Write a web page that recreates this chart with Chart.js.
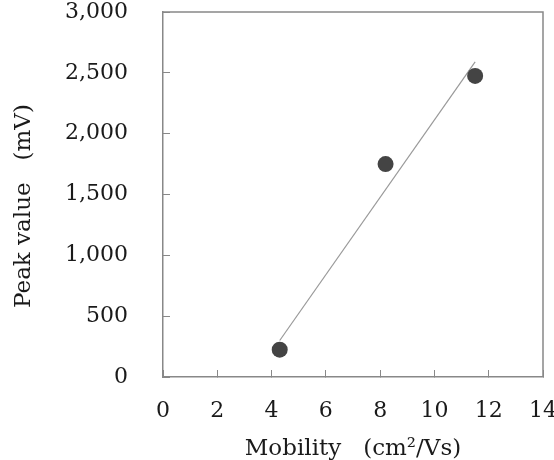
<!DOCTYPE html>
<html>
<head>
<meta charset="utf-8">
<script src="https://cdn.jsdelivr.net/npm/chart.js@4/dist/chart.umd.min.js"></script>
<style>
  html, body { margin: 0; padding: 0; background: #fff; }
  #wrap { width: 554px; height: 460px; }
</style>
</head>
<body>
<div id="wrap"><canvas id="chart"></canvas></div>
<script>
// measured points
const mobility = [4.3, 8.2, 11.5];
const peakValue = [225, 1750, 2475];
// fitted line end points
const fitMobility = [4.3, 11.5];
const fitPeak = [300, 2590];

const xTitle = 'Mobility   (cm\u00b2/Vs)';
const yTitle = 'Peak value   (mV)\u3000';

const axisColor = '#888';
const textColor = '#1a1a1a';

Chart.defaults.font.family = "'DejaVu Serif', serif";
Chart.defaults.font.size = 22;
Chart.defaults.color = textColor;

// draws the top and right sides of the box
const boxPlugin = {
    id: 'box',
    afterDraw(chart) {
        const a = chart.chartArea;
        const ctx = chart.ctx;
        ctx.save();
        ctx.strokeStyle = axisColor;
        ctx.lineWidth = 1.5;
        ctx.beginPath();
        ctx.moveTo(a.left, a.top);
        ctx.lineTo(a.right, a.top);
        ctx.lineTo(a.right, a.bottom);
        ctx.stroke();
        ctx.restore();
    }
};

const ctx = document.getElementById('chart').getContext('2d');
new Chart(ctx, {
    data: {
        datasets: [
            {
                type: 'scatter',
                data: mobility.map((x, i) => ({ x: x, y: peakValue[i] })),
                backgroundColor: '#444',
                borderWidth: 0,
                pointRadius: 8,
                order: 0
            },
            {
                type: 'line',
                data: fitMobility.map((x, i) => ({ x: x, y: fitPeak[i] })),
                borderColor: '#999',
                borderWidth: 1.2,
                pointRadius: 0,
                fill: false,
                order: 1
            }
        ]
    },
    options: {
        responsive: true,
        maintainAspectRatio: false,
        animation: false,
        layout: { padding: { left: 0, right: 11, top: 12, bottom: 0 } },
        plugins: {
            legend: { display: false },
            tooltip: { enabled: false }
        },
        scales: {
            x: {
                type: 'linear',
                min: 0,
                max: 14,
                ticks: { stepSize: 2, padding: 28, color: textColor },
                grid: { drawOnChartArea: false, drawTicks: true, tickLength: -7, color: axisColor, lineWidth: 1 },
                border: { color: axisColor, width: 1.5 },
                title: { display: true, text: xTitle, color: textColor, font: { size: 23 }, padding: { top: 0, bottom: -3 } },
                afterFit(scale) {
                    scale.height = 83;
                    scale.paddingLeft = 0;
                    scale.paddingRight = 0;
                }
            },
            y: {
                type: 'linear',
                min: 0,
                max: 3000,
                ticks: {
                    stepSize: 500,
                    padding: 42,
                    color: textColor,
                    callback: v => v.toLocaleString('en-US')
                },
                grid: { drawOnChartArea: false, drawTicks: true, tickLength: -7, color: axisColor, lineWidth: 1 },
                border: { color: axisColor, width: 1.5 },
                title: { display: true, text: yTitle, color: textColor, font: { size: 23 }, padding: { top: 10, bottom: 0 } },
                afterFit(scale) {
                    scale.width = 163;
                    scale.paddingTop = 0;
                    scale.paddingBottom = 0;
                }
            }
        }
    },
    plugins: [boxPlugin]
});
</script>
</body>
</html>
